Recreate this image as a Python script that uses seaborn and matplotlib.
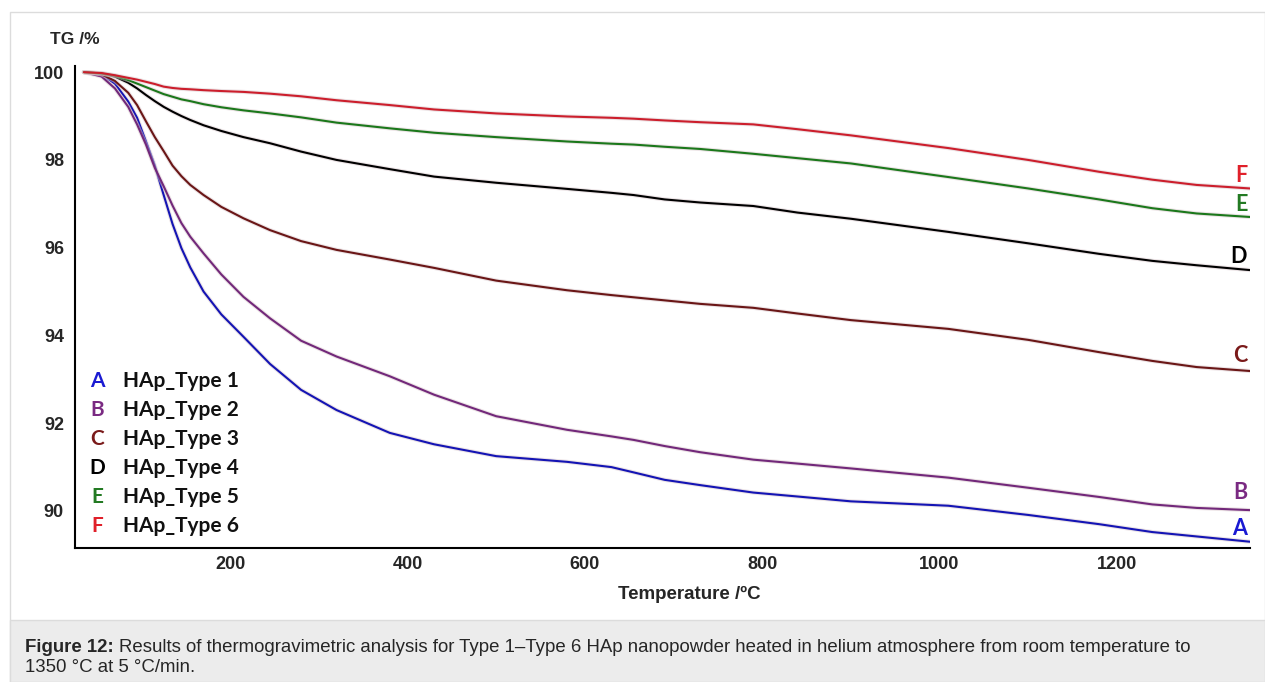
import numpy as np
import pandas as pd
import matplotlib
matplotlib.use("Agg")
import matplotlib.pyplot as plt
import matplotlib.patheffects as pe
from matplotlib.patches import Rectangle
from matplotlib.ticker import MultipleLocator
import seaborn as sns

# Temperature grid (°C) and TG readings (%)
temperature = [35, 55, 70, 85, 95, 105, 115, 125, 135, 145, 155, 170, 190, 215, 245, 280,
               320, 380, 430, 500, 580, 630, 655, 690, 730, 790, 840, 900, 1010, 1100,
               1180, 1240, 1290, 1350]

tg_type1 = [100.0, 99.94, 99.74, 99.33, 98.96, 98.42, 97.87, 97.2, 96.54, 95.99, 95.55,
            95.0, 94.48, 93.97, 93.35, 92.76, 92.3, 91.78, 91.52, 91.25, 91.12, 91.0,
            90.88, 90.71, 90.59, 90.42, 90.33, 90.22, 90.12, 89.91, 89.7, 89.52, 89.42, 89.3]
tg_type2 = [100.0, 99.9, 99.63, 99.21, 98.81, 98.35, 97.82, 97.4, 96.96, 96.56, 96.25,
            95.87, 95.39, 94.88, 94.39, 93.88, 93.52, 93.07, 92.65, 92.16, 91.85, 91.7,
            91.62, 91.48, 91.34, 91.17, 91.08, 90.97, 90.76, 90.53, 90.32, 90.15, 90.07, 90.02]
tg_type3 = [100.0, 99.95, 99.8, 99.53, 99.25, 98.88, 98.52, 98.2, 97.87, 97.63, 97.43,
            97.2, 96.93, 96.67, 96.4, 96.15, 95.95, 95.73, 95.54, 95.25, 95.03, 94.92,
            94.87, 94.8, 94.72, 94.63, 94.5, 94.35, 94.15, 93.9, 93.62, 93.42, 93.28, 93.19]
tg_type4 = [100.0, 99.97, 99.9, 99.76, 99.63, 99.48, 99.34, 99.21, 99.1, 99.0, 98.91,
            98.79, 98.66, 98.52, 98.38, 98.19, 98.0, 97.79, 97.62, 97.48, 97.34, 97.25,
            97.2, 97.1, 97.03, 96.95, 96.8, 96.66, 96.36, 96.1, 95.86, 95.7, 95.6, 95.49]
tg_type5 = [100.0, 99.97, 99.92, 99.82, 99.74, 99.66, 99.58, 99.5, 99.44, 99.38, 99.34,
            99.27, 99.2, 99.13, 99.06, 98.97, 98.85, 98.72, 98.62, 98.52, 98.42, 98.37,
            98.35, 98.3, 98.25, 98.14, 98.04, 97.92, 97.61, 97.35, 97.1, 96.9, 96.78, 96.7]
tg_type6 = [100.0, 99.98, 99.93, 99.87, 99.83, 99.78, 99.73, 99.67, 99.64, 99.62, 99.61,
            99.59, 99.57, 99.55, 99.51, 99.45, 99.36, 99.25, 99.15, 99.06, 98.99, 98.96,
            98.94, 98.9, 98.86, 98.81, 98.7, 98.56, 98.27, 98.0, 97.73, 97.55, 97.43, 97.35]

series_names = ["HAp_Type 1", "HAp_Type 2", "HAp_Type 3", "HAp_Type 4", "HAp_Type 5", "HAp_Type 6"]
series_letters = ["A", "B", "C", "D", "E", "F"]
line_colors = ["#1414b4", "#72287a", "#6a1616", "#000000", "#1b781b", "#cc1e2c"]
letter_colors = ["#1a1ad2", "#7a2a82", "#7a1a1a", "#000000", "#237a23", "#e0202a"]
# offset of the end letter above the last point of each curve (TG %)
letter_offsets = [0.31, 0.41, 0.36, 0.30, 0.29, 0.30]

all_tg = [tg_type1, tg_type2, tg_type3, tg_type4, tg_type5, tg_type6]
df = pd.concat(
    [pd.DataFrame({"T": temperature, "TG": vals, "sample": name})
     for name, vals in zip(series_names, all_tg)],
    ignore_index=True,
)

sns.set_style("white")
label_font = ["Lato", "DejaVu Sans"]
arial = "Liberation Sans"

fig = plt.figure(figsize=(12.65, 6.82), dpi=100)
ax = fig.add_axes([0.0593, 0.1965, 0.9287, 0.7065])

sns.lineplot(data=df, x="T", y="TG", hue="sample", palette=dict(zip(series_names, line_colors)),
             linewidth=1.5, legend=False, ax=ax)
for ln in ax.get_lines():
    ln.set_path_effects([pe.Stroke(linewidth=3.0, foreground="#d9c8cc", alpha=0.5), pe.Normal()])

ax.set_xlim(25, 1350)
ax.set_ylim(89.157, 100.137)
ax.xaxis.set_major_locator(MultipleLocator(200))
ax.xaxis.set_minor_locator(MultipleLocator(100))
ax.yaxis.set_major_locator(MultipleLocator(2))
ax.yaxis.set_minor_locator(MultipleLocator(1))
ax.tick_params(axis="x", which="major", direction="in", length=5, width=1.2, pad=6)
ax.tick_params(axis="x", which="minor", direction="in", length=3, width=1.0)
ax.tick_params(axis="y", which="major", direction="out", length=5, width=1.2, pad=3)
ax.tick_params(axis="y", which="minor", direction="out", length=3, width=1.0)
ax.tick_params(labelsize=13)
for lab in ax.get_xticklabels() + ax.get_yticklabels():
    lab.set_fontweight("bold")
    lab.set_family(arial)

for side in ["top", "right"]:
    ax.spines[side].set_visible(False)
for side in ["left", "bottom"]:
    ax.spines[side].set_color("black")
    ax.spines[side].set_linewidth(1.5)

ax.set_xlabel("Temperature /ºC", fontsize=13.5, fontweight="bold", family=arial)
ax.xaxis.set_label_coords(0.523, -0.078)
ax.set_ylabel("")

# series letters at the right end of each curve
for letter, col, vals, dy in zip(series_letters, letter_colors, all_tg, letter_offsets):
    ax.text(1347, vals[-1] + dy, letter, color=col, fontsize=15.5, fontweight="bold",
            family=label_font, ha="right", va="center")

# legend drawn as text rows
for i, (letter, col, name) in enumerate(zip(series_letters, letter_colors, series_names)):
    y = 381 + i * 29
    fig.text(97 / 1265, 1 - y / 682, letter, color=col, fontsize=15, fontweight="bold",
             family=label_font, ha="center", va="center")
    fig.text(123 / 1265, 1 - y / 682, name, color="#111111", fontsize=15, fontweight="bold",
             family=label_font, ha="left", va="center")

fig.text(50 / 1265, 1 - 39 / 682, "TG /%", fontsize=12.5, fontweight="bold",
         family=arial, ha="left", va="center")

# frame and caption panel
fig.patches.append(Rectangle((10 / 1265, 0), 1 - 10 / 1265, 1 - 12 / 682, transform=fig.transFigure,
                             fill=False, edgecolor="#dcdcdc", linewidth=1.0, zorder=-1))
fig.patches.append(Rectangle((10 / 1265, 0), 1 - 10 / 1265, 62 / 682, transform=fig.transFigure,
                             facecolor="#ececec", edgecolor="#dcdcdc", linewidth=1.0, zorder=-1))
cap_size = 13.4
bold_part = fig.text(25 / 1265, 1 - 647 / 682, "Figure 12:", fontsize=cap_size, fontweight="bold",
                     family=arial, ha="left", va="center")
renderer = fig.canvas.get_renderer()
bb = bold_part.get_window_extent(renderer=renderer)
fig.text((bb.x1 + 5) / 1265, 1 - 647 / 682,
         "Results of thermogravimetric analysis for Type 1\u2013Type 6 HAp nanopowder heated in "
         "helium atmosphere from room temperature to",
         fontsize=cap_size, family=arial, ha="left", va="center")
fig.text(25 / 1265, 1 - 668 / 682, "1350 °C at 5 °C/min.", fontsize=cap_size,
         family=arial, ha="left", va="center")

fig.savefig("out.png", dpi=100)
